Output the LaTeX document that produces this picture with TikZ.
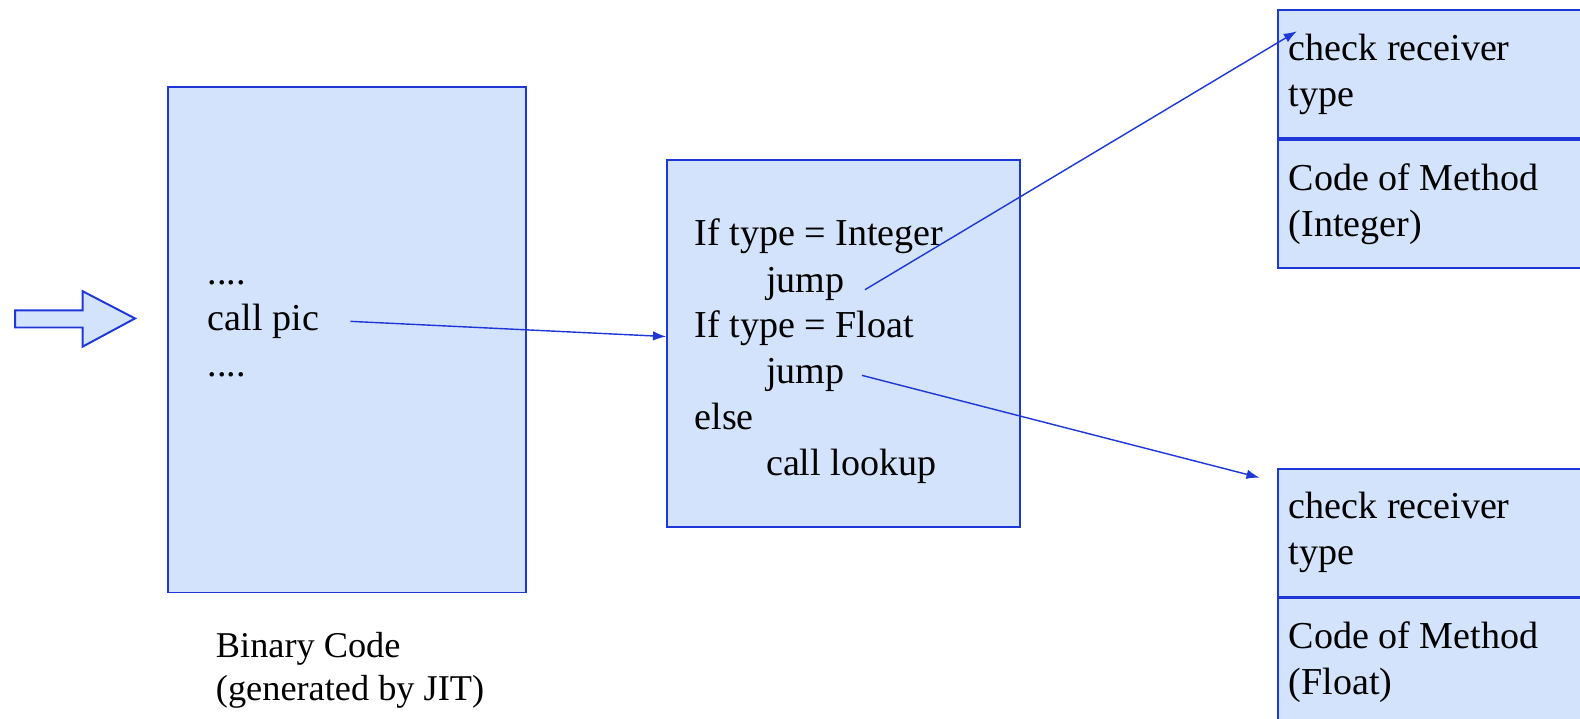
\documentclass[tikz,border=0pt]{standalone}
\usepackage{fontspec}
\setmainfont{Liberation Serif}
\usepackage{tikz}
\usetikzlibrary{arrows.meta,positioning,calc}
\definecolor{jitblue}{RGB}{30,55,215}
\definecolor{jitfill}{RGB}{211,227,252}

\begin{document}
\begin{tikzpicture}[
  font=\fontsize{21.5}{25.9}\selectfont,
  codebox/.style={draw=jitblue,line width=1.1pt,fill=jitfill,anchor=north west,inner sep=0pt},
  part/.style={draw=jitblue,line width=1.1pt,fill=jitfill,minimum height=2.54cm,text width=6.5cm,inner xsep=0.22cm,align=flush left},
  line/.style={anchor=base west,inner sep=0pt},
  link/.style={-{Latex[length=2.6mm,width=1.9mm]},line width=0.8pt,draw=jitblue}
]
\clip (0,0) rectangle (31.36,-14.26);
% entry arrow
\draw[draw=jitblue,line width=1.1pt,fill=jitfill] (0.30,-6.16) -- (1.64,-6.16) -- (1.64,-5.78) -- (2.68,-6.32) -- (1.64,-6.88) -- (1.64,-6.50) -- (0.30,-6.50) -- cycle;
% binary code
\node[codebox,minimum width=7.10cm,minimum height=10.04cm] (bin) at (3.32,-1.70) {};
\node[line] (dotsa) at (4.12,-5.64) {....};
\node[line] (callpic) at (4.12,-6.56) {call pic};
\node[line] (dotsb) at (4.12,-7.48) {....};
\node[anchor=north west,inner sep=0pt,align=flush left,font=\fontsize{20.5}{24.6}\selectfont] (caption) at (4.28,-12.54) {Binary Code\\(generated by JIT)};
% inline cache
\node[codebox,minimum width=7.00cm,minimum height=7.28cm] (pic) at (13.22,-3.16) {};
\node[line] (ifint) at (13.78,-4.88) {If type = Integer};
\node[line] (jumpa) at (15.20,-5.80) {jump};
\node[line] (iffloat) at (13.78,-6.70) {If type = Float};
\node[line] (jumpb) at (15.20,-7.62) {jump};
\node[line] (else) at (13.78,-8.52) {else};
\node[line] (lookup) at (15.20,-9.44) {call lookup};
% methods
\node[part,anchor=north west] (chkint) at (25.34,-0.18) {check receiver\\type};
\node[part,below=0cm of chkint] (codeint) {Code of Method\\(Integer)};
\node[part,anchor=north west] (chkflt) at (25.34,-9.28) {check receiver\\type};
\node[part,below=0cm of chkflt] (codeflt) {Code of Method\\(Float)};
\coordinate (picin) at (13.22,-6.68);
\coordinate (intin) at (25.74,-0.62);
\coordinate (fltin) at (25.00,-9.48);
\draw[link] ([xshift=0.62cm]callpic.east) -- (picin);
\draw[link] ([xshift=0.40cm,yshift=-0.12cm]jumpa.east) -- (intin);
\draw[link] ([xshift=0.34cm]jumpb.east) -- (fltin);
\end{tikzpicture}
\end{document}
